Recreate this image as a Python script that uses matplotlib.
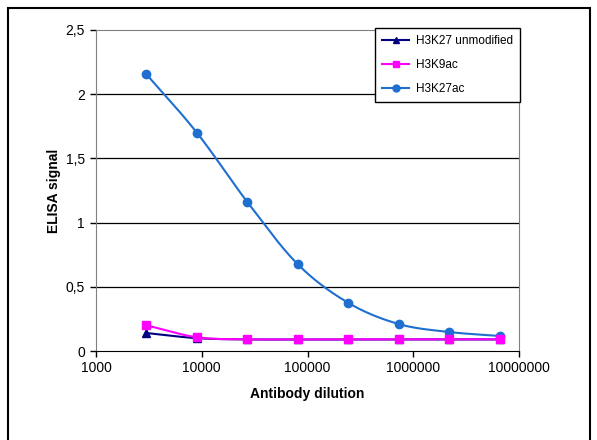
import numpy as np
import matplotlib
matplotlib.use("Agg")
import matplotlib.pyplot as plt
from matplotlib.patches import Rectangle
from matplotlib.ticker import FixedLocator, FuncFormatter, NullLocator

plt.rcParams['font.family'] = ['Liberation Sans', 'DejaVu Sans']

dilution = [3000, 9000, 27000, 81000, 243000, 729000, 2187000, 6561000]
h3k27_unmod = [0.14, 0.10, 0.09, 0.09, 0.09, 0.09, 0.09, 0.09]
h3k9ac = [0.20, 0.107, 0.091, 0.091, 0.091, 0.091, 0.091, 0.091]
h3k27ac = [2.155, 1.70, 1.16, 0.675, 0.375, 0.21, 0.148, 0.117]

y_ticks = [0, 0.5, 1, 1.5, 2, 2.5]
x_ticks = [1000, 10000, 100000, 1000000, 10000000]


def smooth(xs, ys, n=30):
    # catmull-rom through the points, in log-x space (like Excel smoothed lines)
    lx = np.log10(xs)
    ys = np.asarray(ys, float)
    px = np.concatenate([[2 * lx[0] - lx[1]], lx, [2 * lx[-1] - lx[-2]]])
    py = np.concatenate([[2 * ys[0] - ys[1]], ys, [2 * ys[-1] - ys[-2]]])
    ox, oy = [], []
    for i in range(1, len(px) - 2):
        t = np.linspace(0, 1, n, endpoint=False)
        for arr, out in ((px, ox), (py, oy)):
            p0, p1, p2, p3 = arr[i - 1:i + 3]
            out.extend(0.5 * (2 * p1 + (-p0 + p2) * t + (2 * p0 - 5 * p1 + 4 * p2 - p3) * t ** 2
                              + (-p0 + 3 * p1 - 3 * p2 + p3) * t ** 3))
    ox.append(lx[-1])
    oy.append(ys[-1])
    return 10 ** np.array(ox), np.array(oy)


fig = plt.figure(figsize=(5.97, 4.4), dpi=100)
fig.patches.append(Rectangle((8 / 597, -0.05), 582 / 597, 1 - 8 / 440 + 0.05,
                             transform=fig.transFigure, fill=False, edgecolor='black', lw=1.5))
ax = fig.add_axes([96 / 597, 1 - 351 / 440, (519 - 96) / 597, (351 - 30) / 440])

series = [
    (h3k27_unmod, '#000080', '^', 'H3K27 unmodified'),
    (h3k27ac, '#1f6fd0', 'o', 'H3K27ac'),
    (h3k9ac, '#ff00ff', 's', 'H3K9ac'),
]
handles = {}
for ys, col, mk, lab in series:
    sx, sy = smooth(dilution, ys)
    ax.plot(sx, sy, color=col, lw=1.5, zorder=3)
    ax.plot(dilution, ys, linestyle='none', marker=mk, color=col, ms=6, zorder=4)
    handles[lab] = ax.plot([], [], color=col, marker=mk, ms=5, lw=1.5)[0]

ax.set_xscale('log')
ax.set_xlim(1000, 10000000)
ax.set_ylim(0, 2.5)
ax.xaxis.set_major_locator(FixedLocator(x_ticks))
ax.xaxis.set_minor_locator(NullLocator())
ax.xaxis.set_major_formatter(FuncFormatter(lambda v, p: f"{int(round(v))}"))
ax.set_yticks(y_ticks)
ax.yaxis.set_major_formatter(FuncFormatter(lambda v, p: f"{v:g}".replace('.', ',')))
ax.tick_params(direction='out', length=4, labelsize=10, width=1, colors='black')
ax.tick_params(axis='y', pad=4)
for y in y_ticks[1:-1]:
    ax.axhline(y, color='black', lw=0.9, zorder=1)
for s in ['top', 'right', 'left']:
    ax.spines[s].set_color('#808080')
ax.spines['bottom'].set_color('black')

ax.set_xlabel('Antibody dilution', fontweight='bold', fontsize=10, labelpad=8)
ax.set_ylabel('ELISA signal', fontweight='bold', fontsize=10, labelpad=3)

labels = ['H3K27 unmodified', 'H3K9ac', 'H3K27ac']
leg = fig.legend([handles[l] for l in labels], labels, loc='upper left',
                 bbox_to_anchor=(375 / 597, 1 - 28 / 440), borderaxespad=0,
                 fontsize=8.5, frameon=True,
                 fancybox=False, edgecolor='black', framealpha=1, handlelength=2.3,
                 handletextpad=0.6, borderpad=0.6, labelspacing=1.0)
leg.get_frame().set_linewidth(1.0)

fig.savefig('out.png', dpi=100)
